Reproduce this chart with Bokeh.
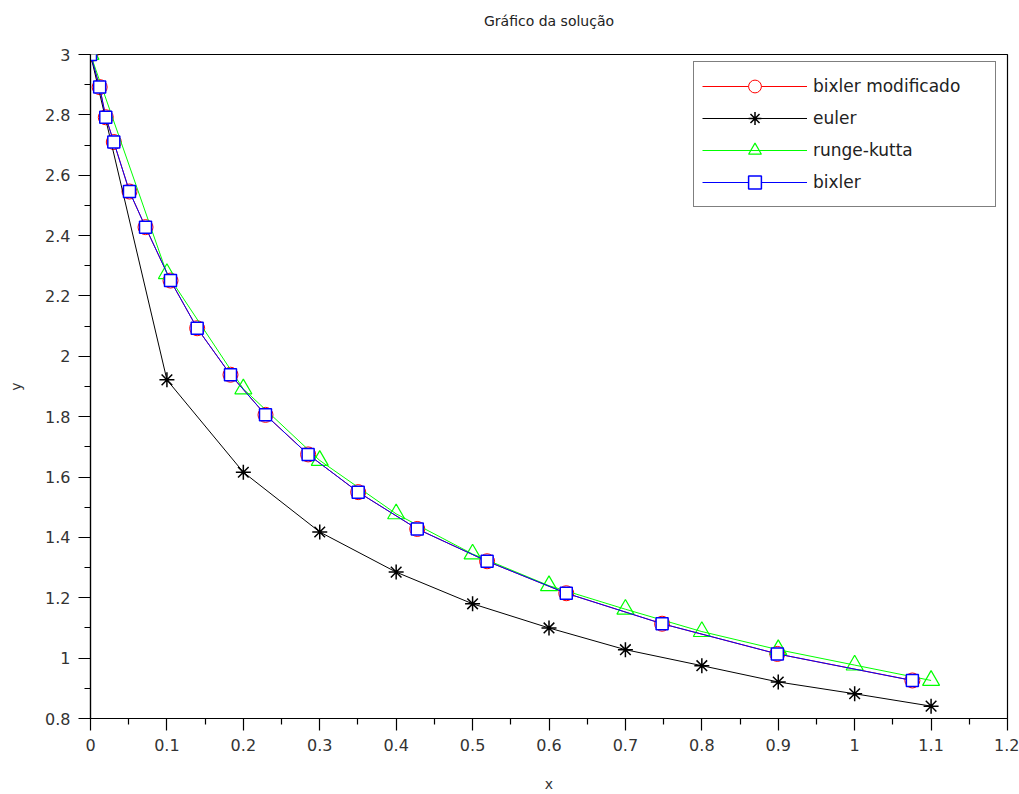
import numpy as np
from bokeh.plotting import figure
from bokeh.models import (Range1d, FixedTicker, CustomJSTickFormatter, Legend, LegendItem, Title)
from bokeh.embed import file_html
from bokeh.resources import INLINE

# ---- data ----
bm_x = [0, 0.012, 0.02, 0.0305, 0.051, 0.072, 0.1047, 0.1396, 0.1832, 0.229, 0.2848,
        0.3503, 0.4276, 0.519, 0.6226, 0.748, 0.8988, 1.0755]
bm_y = [3, 2.892, 2.792, 2.71, 2.546, 2.428, 2.251, 2.093, 1.939, 1.806, 1.675,
        1.55, 1.428, 1.321, 1.215, 1.114, 1.014, 0.926]

euler_x = [0, 0.1, 0.2, 0.3, 0.4, 0.5, 0.6, 0.7, 0.8, 0.9, 1.0, 1.1]
euler_y = [3, 1.922, 1.616, 1.418, 1.285, 1.18, 1.10, 1.028, 0.975, 0.921, 0.882, 0.841]

rk_x = [0, 0.1, 0.2, 0.3, 0.4, 0.5, 0.6, 0.7, 0.8, 0.9, 1.0, 1.1]
rk_y = [3, 2.274, 1.892, 1.655, 1.478, 1.345, 1.240, 1.162, 1.088, 1.028, 0.977, 0.926]

bx_x = [0, 0.012, 0.02, 0.0305, 0.051, 0.072, 0.1047, 0.1396, 0.1832, 0.229, 0.2848,
        0.3503, 0.4276, 0.519, 0.6226, 0.748, 0.8988, 1.0755]
bx_y = [3, 2.892, 2.792, 2.71, 2.546, 2.428, 2.251, 2.093, 1.939, 1.806, 1.675,
        1.55, 1.428, 1.321, 1.215, 1.114, 1.014, 0.926]

x_ticks = [0, 0.1, 0.2, 0.3, 0.4, 0.5, 0.6, 0.7, 0.8, 0.9, 1.0, 1.1, 1.2]
y_ticks = [0.8, 1.0, 1.2, 1.4, 1.6, 1.8, 2.0, 2.2, 2.4, 2.6, 2.8, 3.0]

title_text = "Gráfico da solução"
labels = ["bixler modificado", "euler", "runge-kutta", "bixler"]

FONT = "DejaVu Sans"
TXT = "#333333"

p = figure(frame_width=917, frame_height=664,
           min_border_left=90, min_border_right=12, min_border_top=54, min_border_bottom=76,
           x_range=Range1d(0, 1.2), y_range=Range1d(0.8, 3.0),
           output_backend="svg", toolbar_location=None)

p.background_fill_color = "white"
p.border_fill_color = "white"
p.outline_line_color = "black"
p.outline_line_width = 1.2
p.xgrid.visible = False
p.ygrid.visible = False

# spacer title (blank) next to the frame, real title above it
spacer = Title(text=" ", text_font_size="14px", standoff=7, align="center")
p.add_layout(spacer, "above")
main_title = Title(text=title_text, align="center", text_font=FONT,
                   text_font_size="14px", text_font_style="normal",
                   text_color="#222222", standoff=2)
p.add_layout(main_title, "above")

x_minor = list((np.array(x_ticks[:-1]) + np.array(x_ticks[1:])) / 2)
y_minor = list((np.array(y_ticks[:-1]) + np.array(y_ticks[1:])) / 2)
p.xaxis.ticker = FixedTicker(ticks=x_ticks, minor_ticks=x_minor)
p.yaxis.ticker = FixedTicker(ticks=y_ticks, minor_ticks=y_minor)
fmt = CustomJSTickFormatter(code="return tick.toFixed(1).replace(/\\.0$/, '');")
p.xaxis.formatter = fmt
p.yaxis.formatter = fmt

for ax in (p.xaxis[0], p.yaxis[0]):
    ax.axis_line_color = "black"
    ax.axis_line_width = 1.2
    ax.major_tick_line_color = "black"
    ax.minor_tick_line_color = "black"
    ax.major_tick_line_width = 1.2
    ax.minor_tick_line_width = 1.2
    ax.major_tick_in = 0
    ax.major_tick_out = 12
    ax.minor_tick_in = 0
    ax.minor_tick_out = 6
    ax.major_label_text_font = FONT
    ax.major_label_text_font_size = "16px"
    ax.major_label_text_color = TXT
    ax.major_label_standoff = 8
    ax.axis_label_text_font = FONT
    ax.axis_label_text_font_size = "14px"
    ax.axis_label_text_font_style = "normal"
    ax.axis_label_text_color = TXT

p.xaxis.axis_label = "x"
p.yaxis.axis_label = "y"
p.xaxis.axis_label_standoff = 22
p.yaxis.axis_label_standoff = 18

# series (order: bixler modificado, euler, runge-kutta, bixler)
l1 = p.line(bm_x, bm_y, line_color="#ff0000", line_width=1)
m1 = p.scatter(bm_x, bm_y, marker="circle", size=15, line_color="#ff0000",
               fill_color="white", line_width=1)
l2 = p.line(euler_x, euler_y, line_color="black", line_width=1)
m2 = p.scatter(euler_x, euler_y, marker="asterisk", size=15, line_color="black", line_width=1.5)
l3 = p.line(rk_x, rk_y, line_color="#00ff00", line_width=1)
m3 = p.scatter(rk_x, rk_y, marker="triangle", size=17, line_color="#00ff00",
               fill_color="white", fill_alpha=0, line_width=1.2)
l4 = p.line(bx_x, bx_y, line_color="#0000ff", line_width=1)
m4 = p.scatter(bx_x, bx_y, marker="square", size=12, line_color="#0000ff",
               fill_color="white", line_width=1.5)

legend = Legend(items=[
    LegendItem(label=labels[0], renderers=[l1, m1]),
    LegendItem(label=labels[1], renderers=[l2, m2]),
    LegendItem(label=labels[2], renderers=[l3, m3]),
    LegendItem(label=labels[3], renderers=[l4, m4]),
], location=(603, 511))
legend.glyph_width = 105
legend.glyph_height = 32
legend.label_height = 32
legend.label_width = 174
legend.label_standoff = 6
legend.spacing = 0
legend.padding = 8
legend.margin = 0
legend.border_line_color = "black"
legend.border_line_width = 1.5
legend.background_fill_color = "white"
legend.background_fill_alpha = 1
legend.label_text_font = FONT
legend.label_text_font_size = "17px"
legend.label_text_color = "#222222"
p.add_layout(legend, "center")

open("out.html", "w").write(file_html(p, INLINE))
